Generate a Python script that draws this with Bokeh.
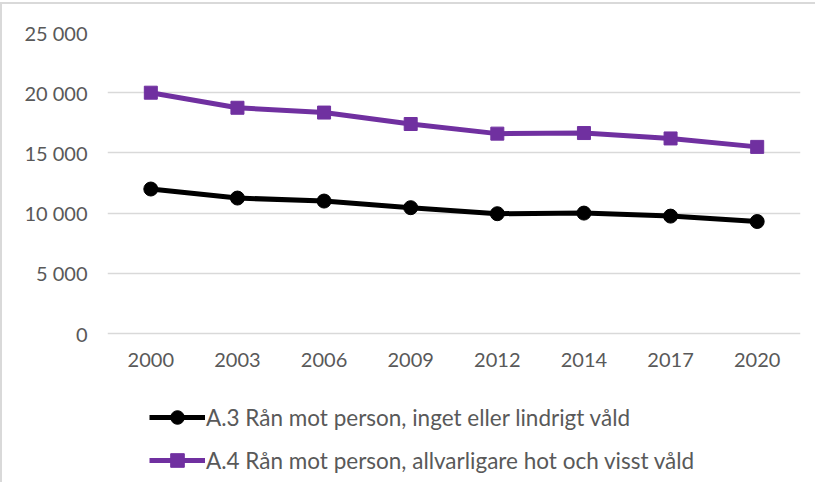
from bokeh.plotting import figure
from bokeh.models import FactorRange, Range1d, FixedTicker, Legend, LegendItem
from bokeh.embed import file_html
from bokeh.resources import INLINE

years = ["2000", "2003", "2006", "2009", "2012", "2014", "2017", "2020"]
a3 = [12000, 11250, 11000, 10450, 9950, 10000, 9750, 9300]
a4 = [20000, 18750, 18350, 17400, 16600, 16650, 16200, 15500]
label_a3 = "A.3 Rån mot person, inget eller lindrigt våld"
label_a4 = "A.4 Rån mot person, allvarligare hot och visst våld"
y_ticks = [0, 5000, 10000, 15000, 20000, 25000]

FONT = "Lato"
TXT = "#595959"
GRID = "#d9d9d9"
PURPLE = "#7030a0"

H = 480
TOP = 28
PLOT_PX = 301          # pixels between 0 and 25000
frame_h = H - TOP
y_top = y_ticks[-1]
y_start = y_top - frame_h / PLOT_PX * y_top   # frame extends below 0 for the legend

p = figure(width=815, height=H, output_backend="svg", toolbar_location=None,
           x_range=FactorRange(*years, range_padding=0),
           y_range=Range1d(y_start, y_top),
           min_border_left=105, min_border_right=17, min_border_top=TOP, min_border_bottom=0)
p.styles = {"border-top": "2px solid #d9d9d9", "border-left": "2px solid #d9d9d9", "margin-top": "2px"}
p.outline_line_color = None
p.background_fill_color = "white"
p.border_fill_color = "white"

p.xgrid.grid_line_color = None
p.ygrid.grid_line_color = GRID
p.ygrid.grid_line_width = 1.5
p.yaxis.ticker = FixedTicker(ticks=y_ticks)
p.ygrid.ticker = FixedTicker(ticks=y_ticks)
p.yaxis.major_label_overrides = {v: f"{v:,}".replace(",", " ") for v in y_ticks}
p.xaxis.fixed_location = 0

for ax in (p.xaxis, p.yaxis):
    ax.axis_line_color = None
    ax.major_tick_line_color = None
    ax.minor_tick_line_color = None
    ax.major_label_text_font = FONT
    ax.major_label_text_font_size = "20px"
    ax.major_label_text_color = TXT
p.yaxis.major_label_standoff = 14
p.xaxis.major_label_standoff = 13

l3 = p.line(years, a3, line_color="black", line_width=5)
m3 = p.scatter(years, a3, marker="circle", size=14, fill_color="black", line_color="black")
l4 = p.line(years, a4, line_color=PURPLE, line_width=5)
m4 = p.scatter(years, a4, marker="square", size=13, fill_color=PURPLE, line_color=PURPLE)

legend = Legend(items=[LegendItem(label=label_a3, renderers=[l3, m3]),
                       LegendItem(label=label_a4, renderers=[l4, m4])],
                location=(42, 7), orientation="vertical",
                padding=0, margin=0, spacing=9,
                glyph_width=56, glyph_height=34, label_height=20, label_standoff=1,
                label_text_font=FONT, label_text_font_size="22.5px", label_text_color=TXT,
                border_line_color=None, background_fill_alpha=0)
p.add_layout(legend, "center")

open("out.html", "w").write(file_html(p, INLINE))
